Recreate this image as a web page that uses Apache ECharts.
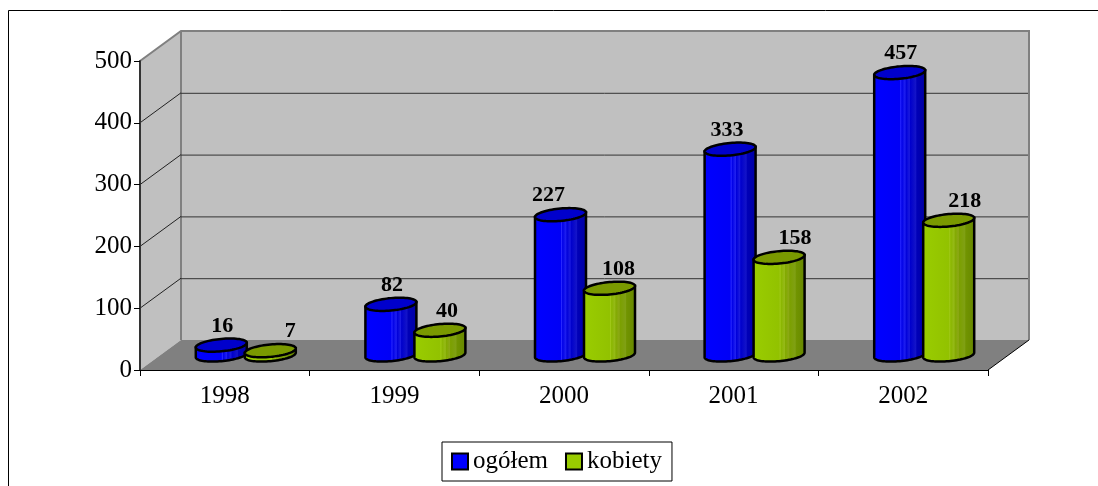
<!DOCTYPE html>
<html>
<head>
<meta charset="utf-8">
<style>html,body{margin:0;padding:0;background:#fff}#c{width:1098px;height:486px}</style>
<script src="https://cdn.jsdelivr.net/npm/echarts@6/dist/echarts.min.js"></script>
</head>
<body>
<div id="c"></div>
<script>
const categories = ['1998', '1999', '2000', '2001', '2002'];
const ogolem = [16, 82, 227, 333, 457];
const kobiety = [7, 40, 108, 158, 218];
const yTicks = [0, 100, 200, 300, 400, 500];
const labelNudgeBlue = [1, 1, -12, -3, 1];
const labelNudgeGreen = [20, 7, 9, 16, 16];

const FONT = '"Liberation Serif","Times New Roman",serif';
const DX = 41, DY = -30;      // depth of the 3-D box
const MIDX = 21, MIDY = -15;  // bars stand in the middle of the depth
const A = 25.5, B = 6.2, K = -0.09;

const blueBody = [[0,'#0000ec'],[.05,'#0000ff'],[.5,'#0000f6'],[.52,'#2828ff'],[.54,'#0000e8'],[.6,'#2020f0'],[.62,'#0000da'],[.68,'#1a1ae0'],[.7,'#0000cc'],[.8,'#1414c8'],[.82,'#0000b8'],[1,'#0000a0']];
const greenBody = [[0,'#93c400'],[.05,'#99cc00'],[.5,'#92c200'],[.52,'#a0c818'],[.54,'#8ab600'],[.6,'#96ba18'],[.62,'#82aa00'],[.68,'#8ca816'],[.7,'#7ba000'],[.8,'#80a014'],[.82,'#719400'],[1,'#668600']];

function grad(stops){
  return {type:'linear',x:0,y:0,x2:1,y2:0,colorStops:stops.map(s=>({offset:s[0],color:s[1]}))};
}
function arc(cx, cy, from, to, n){
  const pts = [];
  for (let i = 0; i <= n; i++){
    const t = from + (to - from) * i / n;
    pts.push([cx + A * Math.cos(t), cy + B * Math.sin(t) + K * A * Math.cos(t)]);
  }
  return pts;
}
function cylinder(offset, body, top, nudge){
  return function(params, api){
    const i = api.value(0), v = api.value(1);
    const tp = api.coord([i, v]), bt = api.coord([i, 0]);
    const cx = tp[0] + MIDX + offset, cyT = tp[1] + MIDY, cyB = bt[1] + MIDY;
    const lowerB = arc(cx, cyB, 0, Math.PI, 40);
    const bodyPts = [[cx + A, cyT + K * A]].concat(lowerB, [[cx - A, cyT - K * A]]);
    return {type:'group', children:[
      {type:'polygon', shape:{points:bodyPts}, style:{fill:grad(body), stroke:'#000', lineWidth:2.5}},
      {type:'polygon', shape:{points:arc(cx, cyT, 0, Math.PI*2, 72)}, style:{fill:top, stroke:'#000', lineWidth:2.5}},
      {type:'text', z2:10, style:{text:String(v), x:cx + nudge[i], y:cyT - 19, align:'center', verticalAlign:'middle',
        font:'bold 22px ' + FONT, fill:'#000'}}
    ]};
  };
}
function walls(params, api){
  const r = params.coordSys, v = api.value(0);
  const y = api.coord([0, v])[1];
  const L = r.x, R = r.x + r.width, T = r.y, Bm = r.y + r.height;
  const kids = [];
  if (params.dataIndex === 0){
    kids.push(
      {type:'polygon', shape:{points:[[L,T],[L+DX,T+DY],[L+DX,Bm+DY],[L,Bm]]}, style:{fill:'#c0c0c0'}},
      {type:'rect', shape:{x:L+DX,y:T+DY,width:r.width,height:r.height}, style:{fill:'#c0c0c0'}},
      {type:'polygon', shape:{points:[[L,Bm],[L+DX,Bm+DY],[R+DX,Bm+DY],[R,Bm]]}, style:{fill:'#808080'}},
      {type:'polyline', shape:{points:[[L,T],[L+DX,T+DY],[R+DX,T+DY],[R+DX,Bm+DY]]}, style:{fill:'none',stroke:'#808080',lineWidth:2}},
      {type:'line', shape:{x1:L+DX,y1:T+DY,x2:L+DX,y2:Bm+DY}, style:{stroke:'#808080',lineWidth:2}},
      {type:'line', shape:{x1:R,y1:Bm,x2:R+DX,y2:Bm+DY}, style:{stroke:'#000',lineWidth:1}}
    );
  } else if (v < yTicks[yTicks.length-1]){
    kids.push(
      {type:'line', shape:{x1:L+DX,y1:y+DY+.5,x2:R+DX-1,y2:y+DY+.5}, style:{stroke:'#333',lineWidth:1}},
      {type:'line', shape:{x1:L,y1:y,x2:L+DX,y2:y+DY}, style:{stroke:'#222',lineWidth:1}}
    );
  }
  return {type:'group', children:kids};
}

const chart = echarts.init(document.getElementById('c'), null, {renderer:'canvas'});
chart.setOption({
  animation:false,
  backgroundColor:'#fff',
  graphic:[
    {type:'polyline', silent:true, z:0, shape:{points:[[8.5,486],[8.5,10.5],[1098,10.5]]}, style:{fill:'none',stroke:'#000',lineWidth:1}}
  ],
  grid:{left:140, right:110, top:61, bottom:116, containLabel:false},
  xAxis:{
    type:'category', data:categories, z:5,
    axisLine:{lineStyle:{color:'#000',width:1}},
    axisTick:{show:true,length:6,alignWithLabel:false,lineStyle:{color:'#000'}},
    axisLabel:{color:'#000',fontFamily:FONT,fontSize:25,margin:14},
    splitLine:{show:false}
  },
  yAxis:{
    type:'value', min:0, max:500, interval:100, z:5,
    axisLine:{show:true,lineStyle:{color:'#333',width:2}},
    axisTick:{show:true,length:6,lineStyle:{color:'#000'}},
    axisLabel:{color:'#000',fontFamily:FONT,fontSize:25,margin:8},
    splitLine:{show:false}
  },
  legend:{
    left:442, top:442, padding:[7,10,7,9],
    borderColor:'#000', borderWidth:1,
    itemWidth:16, itemHeight:16, itemGap:17,
    icon:'rect',
    itemStyle:{borderColor:'#000',borderWidth:2},
    textStyle:{color:'#000',fontFamily:FONT,fontSize:25},
    data:['ogółem','kobiety']
  },
  series:[
    {type:'custom', name:'walls', z:1, silent:true, data:yTicks.map(v=>[v]),
     encode:{y:0}, renderItem:walls},
    {type:'custom', name:'ogółem', z:2, silent:true, itemStyle:{color:'#0000ff'},
     data:ogolem.map((v,i)=>[i,v]), encode:{x:0,y:1},
     renderItem:cylinder(-24.5, blueBody, '#0000cc', labelNudgeBlue)},
    {type:'custom', name:'kobiety', z:3, silent:true, itemStyle:{color:'#99cc00'},
     data:kobiety.map((v,i)=>[i,v]), encode:{x:0,y:1},
     renderItem:cylinder(24.5, greenBody, '#7a9900', labelNudgeGreen)}
  ]
});
</script>
</body>
</html>
